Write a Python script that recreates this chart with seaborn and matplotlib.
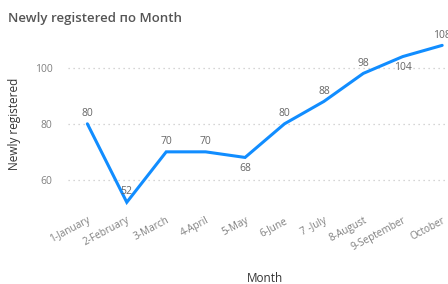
import matplotlib
matplotlib.use("Agg")
import matplotlib.pyplot as plt
import seaborn as sns
import pandas as pd

# data
months = ["1-January", "2-February", "3-March", "4-April", "5-May",
          "6-June", "7 -July", "8-August", "9-September", "October"]
registered = [80, 52, 70, 70, 68, 80, 88, 98, 104, 108]
label_side = ["above", "above", "above", "above", "below",
              "above", "above", "above", "below", "above"]
y_ticks = [60, 80, 100]

df = pd.DataFrame({"Month": months, "Newly registered": registered})

sns.set_theme(style="white")
plt.rcParams['font.family'] = ['Open Sans', 'DejaVu Sans']

fig = plt.figure(figsize=(4.48, 2.84), dpi=100)
ax = fig.add_axes([0.151, 0.268, 0.88, 0.592])

x = list(range(len(months)))
sns.lineplot(x=x, y=df["Newly registered"], ax=ax, color="#118DFF",
             linewidth=2.2, solid_joinstyle="miter")

for xi, v, side in zip(x, registered, label_side):
    off = 3.5 if side == "above" else -4
    ax.annotate(str(v), (xi, v), xytext=(0, off), textcoords="offset points",
                ha="center", va="bottom" if side == "above" else "top",
                fontsize=7.5, color="#666666")

ax.set_xlim(-0.5, len(months) - 0.5)
ax.set_ylim(50, 110)
ax.set_yticks(y_ticks)
ax.set_xticks(x)
ax.set_xticklabels(months, rotation=28, ha="right", rotation_mode="anchor",
                   fontsize=7.2, color="#808080")
ax.tick_params(axis="y", labelsize=7.5, labelcolor="#808080", length=0, pad=11)
ax.tick_params(axis="x", length=0, pad=5)
ax.grid(axis="y", linestyle=(0, (1, 3)), color="#c8c8c8", linewidth=0.9)
for s in ax.spines.values():
    s.set_visible(False)

ax.set_xlabel("Month", fontsize=8.5, color="#333333", labelpad=14)
ax.set_ylabel("Newly registered", fontsize=8.5, color="#333333", labelpad=10)

fig.text(0.018, 0.935, "Newly registered по Month", fontsize=9.5,
         color="#555555", ha="left", va="center", fontweight="semibold")

fig.savefig("out.png", dpi=100)
